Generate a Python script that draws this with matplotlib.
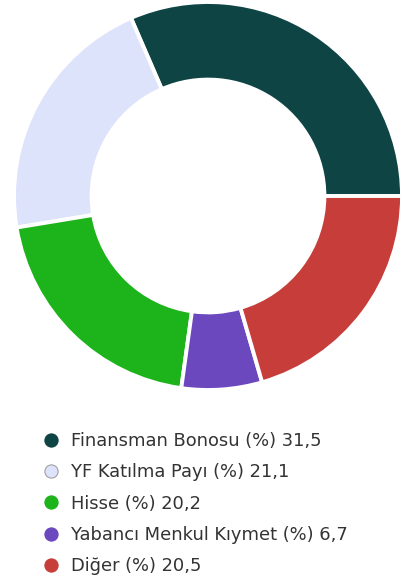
import matplotlib

matplotlib.use("Agg")
import matplotlib.pyplot as plt
from matplotlib.lines import Line2D

labels = ["Finansman Bonosu", "YF Katılma Payı", "Hisse", "Yabancı Menkul Kıymet", "Diğer"]
shares = [31.5, 21.1, 20.2, 6.7, 20.5]
colors = ["#0F4445", "#DEE3FC", "#1DB31B", "#6C48BE", "#C63D3A"]

W, H = 406, 584
fig = plt.figure(figsize=(W / 100, H / 100), dpi=100)

# donut placed by pixel geometry
cx, cy, r = 208, 196, 194
ax = fig.add_axes([(cx - r) / W, (H - cy - r) / H, 2 * r / W, 2 * r / H])
ax.pie(
    shares,
    colors=colors,
    startangle=0,
    counterclock=True,
    radius=1.0,
    wedgeprops=dict(width=0.4, edgecolor="white", linewidth=2.8),
)
ax.set_xlim(-1, 1)
ax.set_ylim(-1, 1)
ax.set_aspect("equal")
ax.axis("off")

# legend rows
handles = [
    Line2D([], [], marker="o", linestyle="none", markersize=9.5,
           markerfacecolor=c, markeredgecolor="#a0a0a0" if c == "#DEE3FC" else c,
           markeredgewidth=0.8)
    for c in colors
]
texts = [f"{l} (%) {str(v).replace('.', ',')}" for l, v in zip(labels, shares)]
fig.legend(
    handles, texts,
    loc="upper left",
    bbox_to_anchor=(43 / W, 1 - 432 / H),
    frameon=False,
    prop=dict(family="DejaVu Sans", size=12.9),
    labelcolor="#333333",
    handlelength=0.86,
    handletextpad=0.68,
    labelspacing=0.74,
    borderpad=0,
    borderaxespad=0,
)

fig.savefig("out.png", dpi=100)
